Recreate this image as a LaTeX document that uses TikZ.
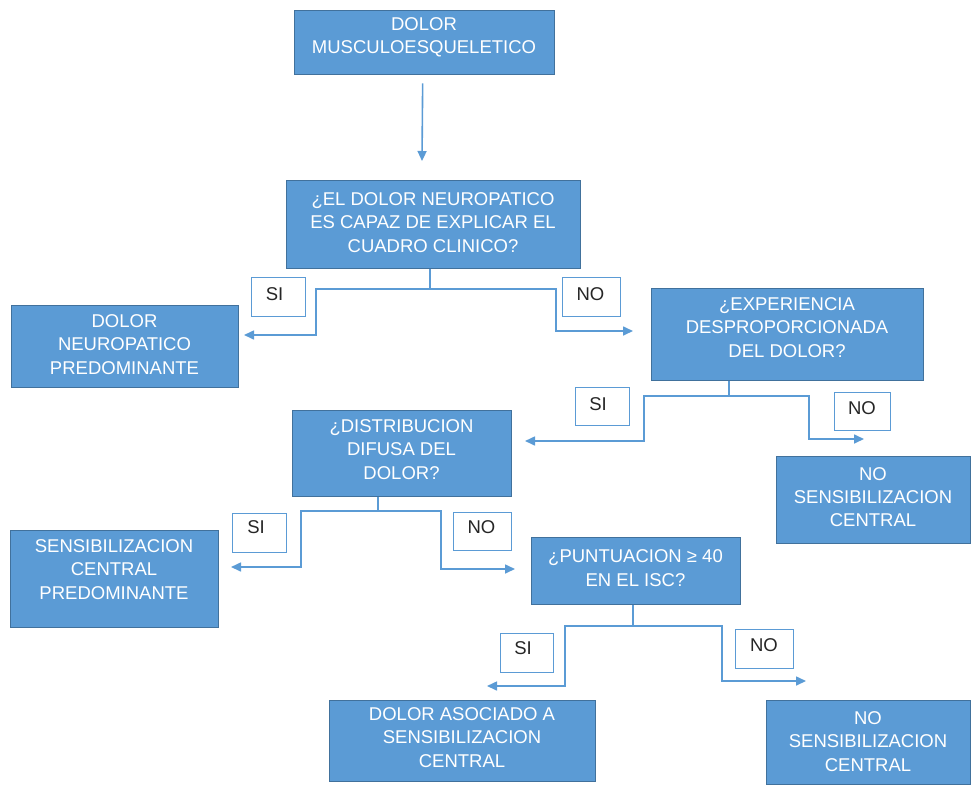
\documentclass[tikz,border=0pt]{standalone}
\usepackage{fontspec}
\setmainfont{Liberation Sans}
\usetikzlibrary{arrows.meta,calc}
\definecolor{boxfill}{HTML}{5B9BD5}
\definecolor{boxline}{HTML}{41719C}
\definecolor{conncol}{HTML}{5B9BD5}
\definecolor{lbltext}{HTML}{262626}
\tikzset{
  bigbox/.style={draw=boxline, fill=boxfill, line width=1.3pt, inner sep=0pt, anchor=north west},
  boxtext/.style={text=white, align=center, inner sep=0pt, font=\fontsize{18.5pt}{23.3pt}\selectfont},
  lblbox/.style={draw=conncol, fill=white, line width=1.4pt, inner sep=0pt, anchor=north west},
  lbltxt/.style={text=lbltext, inner sep=0pt, font=\fontsize{18.5pt}{22pt}\selectfont},
  conn/.style={draw=conncol, line width=1.6pt},
  arr/.style={conn, -{Triangle[length=10pt,width=9pt]}},
}
\newcommand{\boxat}[5]{% name, x1, y1, x2, y2
  \node[bigbox, minimum width={#4-#2}, minimum height={#5-#3}] (#1) at (#2,#3) {};}
\newcommand{\lblat}[5]{%
  \node[lblbox, minimum width={#4-#2}, minimum height={#5-#3}] (#1) at (#2,#3) {};}
\begin{document}
\begin{tikzpicture}[x=1pt,y=-1pt]
\useasboundingbox (0,0) rectangle (973,784);
% main boxes
\boxat{b1}{294}{10}{554}{74}
\boxat{b2}{286}{180}{580}{268}
\boxat{b3}{11}{305}{238}{387}
\boxat{b4}{651}{288}{923}{380}
\boxat{b5}{292}{410}{511}{496}
\boxat{b6}{776}{456}{970}{543}
\boxat{b7}{10}{530}{218}{627}
\boxat{b8}{531}{537}{740}{604}
\boxat{b9}{329}{700}{595}{781}
\boxat{b10}{766}{700}{970}{784}
% texts
\node[boxtext] (t1) at (424,37) {DOLOR\\MUSCULOESQUELETICO};
\node[boxtext] (t2) at (433,222.5) {¿EL DOLOR NEUROPATICO\\ES CAPAZ DE EXPLICAR EL\\CUADRO CLINICO?};
\node[boxtext] (t3) at (124.5,344.5) {DOLOR\\NEUROPATICO\\PREDOMINANTE};
\node[boxtext] (t4) at (787,327.5) {¿EXPERIENCIA\\DESPROPORCIONADA\\DEL DOLOR?};
\node[boxtext] (t5) at (401.5,449.5) {¿DISTRIBUCION\\DIFUSA DEL\\DOLOR?};
\node[boxtext] (t6) at (873,497) {NO\\SENSIBILIZACION\\CENTRAL};
\node[boxtext] (t7) at (114,569.5) {SENSIBILIZACION\\CENTRAL\\PREDOMINANTE};
\node[boxtext] (t8) at (635.5,568) {¿PUNTUACION ≥ 40\\EN EL ISC?};
\node[boxtext] (t9) at (462,737.5) {DOLOR ASOCIADO A\\SENSIBILIZACION\\CENTRAL};
\node[boxtext] (t10) at (868,741.5) {NO\\SENSIBILIZACION\\CENTRAL};
% label boxes
\lblat{l1}{251}{277}{305}{316}
\lblat{l2}{562}{277}{620}{316}
\lblat{l3}{575}{387}{629}{425}
\lblat{l4}{834}{392}{890}{430}
\lblat{l5}{232}{513}{286}{552}
\lblat{l6}{453}{512}{511}{550}
\lblat{l7}{500}{633}{553}{672}
\lblat{l8}{735}{629}{793}{668}
\node[lbltxt] at (274.5,294) {SI};
\node[lbltxt] at (590.5,294) {NO};
\node[lbltxt] at (598,404.5) {SI};
\node[lbltxt] at (862,408) {NO};
\node[lbltxt] at (256,527.5) {SI};
\node[lbltxt] at (481.5,527.5) {NO};
\node[lbltxt] at (523,648.5) {SI};
\node[lbltxt] at (764,645.5) {NO};
% connector from b1
\coordinate (a1) at (422,161);
\draw[arr] ($(b1.south)+(-2,8)$) -- (a1);
% connector from b2
\coordinate (j2) at (430,289);
\coordinate (e2l) at (244,335);
\coordinate (e2r) at (633,331);
\draw[conn] ($(b2.south west)+(144,0)$) -- (j2);
\draw[arr] (j2) -- (316,289) -- (316,335) -- (e2l);
\draw[arr] (j2) -- (556,289) -- (556,331) -- (e2r);
% connector from b4
\coordinate (j4) at (729,396);
\coordinate (e4l) at (525,441);
\coordinate (e4r) at (864,439);
\draw[conn] ($(b4.south west)+(78,0)$) -- (j4);
\draw[arr] (j4) -- (644,396) -- (644,441) -- (e4l);
\draw[arr] (j4) -- (809,396) -- (809,439) -- (e4r);
% connector from b5
\coordinate (j5) at (378,511);
\coordinate (e5l) at (231,567);
\coordinate (e5r) at (515,569);
\draw[conn] ($(b5.south west)+(86,0)$) -- (j5);
\draw[arr] (j5) -- (301,511) -- (301,567) -- (e5l);
\draw[arr] (j5) -- (441,511) -- (441,569) -- (e5r);
% connector from b8
\coordinate (j8) at (633,626);
\coordinate (e8l) at (487,686);
\coordinate (e8r) at (806,681);
\draw[conn] ($(b8.south west)+(102,0)$) -- (j8);
\draw[arr] (j8) -- (565,626) -- (565,686) -- (e8l);
\draw[arr] (j8) -- (722,626) -- (722,681) -- (e8r);
\end{tikzpicture}
\end{document}
